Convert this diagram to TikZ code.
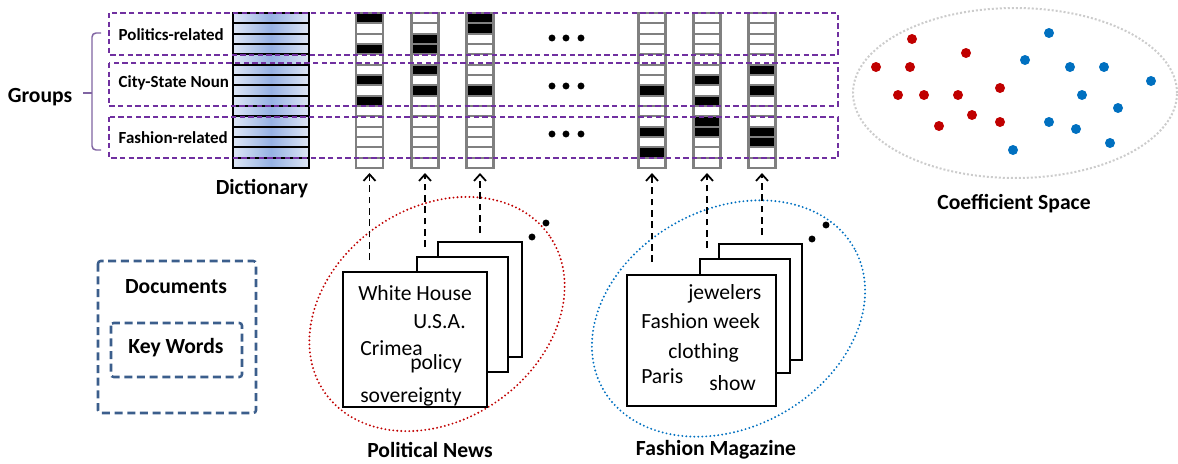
\documentclass[tikz,border=0pt]{standalone}
\usepackage{fontspec}
\setmainfont{Carlito}
\usetikzlibrary{arrows.meta, positioning, shapes.geometric}
\definecolor{grpPurple}{RGB}{112,48,160}
\definecolor{legBlue}{RGB}{59,94,140}
\definecolor{braceCol}{RGB}{128,100,162}
\definecolor{ptRed}{RGB}{192,0,0}
\definecolor{ptBlue}{RGB}{0,112,192}
\definecolor{dictEdge}{RGB}{222,230,245}
\definecolor{dictMid}{RGB}{150,178,228}
\tikzset{%
  big/.style = {font = \bfseries\fontsize{16.2}{19}\selectfont},
  grp/.style = {font = \bfseries\fontsize{12.7}{15}\selectfont, anchor = west},
  word/.style = {font = \fontsize{16.2}{19}\selectfont, anchor = base west, inner sep = 0},
  grpbox/.style = {draw = grpPurple, dashed, line width = 1.2pt, dash pattern = on 4pt off 2.5pt},
  cell/.style = {draw = gray, line width = 1.6pt, fill = white},
  hit/.style = {cell, fill = black},
  feed/.style = {draw, dashed, line width = 1.3pt, dash pattern = on 5pt off 3.5pt, -{Straight Barb[length=5pt, width=9pt]}},
  page/.style = {rectangle, draw, line width = 1.6pt, fill = white, inner sep = 0},
  ring/.style = {ellipse, draw, line width = 1.6pt, line cap = round, dash pattern = on 0pt off 3pt, inner sep = 0, outer sep = 0},
  legend/.style = {draw = legBlue, line width = 1.9pt, dash pattern = on 6pt off 3.5pt, rounded corners = 2pt},
  dictbox/.style = {rectangle, draw, line width = 1.6pt, inner sep = 0, left color = dictEdge, right color = dictEdge, middle color = dictMid}
}
\begin{document}
\begin{tikzpicture}[x=0.75pt, y=-0.75pt]
    \useasboundingbox (0,0) rectangle (1178,464);
    % rings behind the pages
    \node[ring, draw = ptRed, minimum width = 205.5pt, minimum height = 159pt, rotate = 35] (pnring) at (437,314) {};
    \node[ring, draw = ptBlue, minimum width = 216pt, minimum height = 163.5pt, rotate = 29] (fmring) at (728.5,318.5) {};
    \node[ring, draw = gray!40, line width = 1.5pt, line cap = butt, dash pattern = on 1.5pt off 1.5pt, minimum width = 243pt, minimum height = 127.5pt] (coefring) at (1015,93) {};
    % dictionary
    \node[dictbox, minimum width = 57pt, minimum height = 116.25pt] (dict) at (271,90.5) {};
    \foreach \r in {1,...,14}
      \draw[line width = 1.6pt] (233,{13+\r*10.333}) -- (309,{13+\r*10.333});
    \node[big] (dictlabel) at (262,189) {Dictionary};
    % coefficient columns
    \foreach \cx/\blk in {369.5/{1,4,7,9}, 425/{3,4,6,8}, 480/{1,2,8}, 652/{8,12,14}, 707/{7,9,11,12}, 762/{6,8,12,13}} {
      \foreach \r in {1,...,15}
        \draw[cell] ({\cx-13.5},{13+(\r-1)*10.333}) rectangle ++(27,10.333);
      \foreach \r in \blk
        \draw[hit] ({\cx-13.5},{13+(\r-1)*10.333}) rectangle ++(27,10.333);
    }
    % groups
    \draw[grpbox] (109,13) rectangle (838,55);
    \draw[grpbox] (109,63) rectangle (838,106);
    \draw[grpbox] (109,117) rectangle (838,158);
    \node[grp] (g1) at (114,35) {Politics-related};
    \node[grp] (g2) at (114,83) {City-State Noun};
    \node[grp] (g3) at (114,138) {Fashion-related};
    \foreach \gy in {38,86,134}
      \foreach \gx in {552,566,581}
        \fill (\gx,\gy) circle[radius = 2.6pt];
    \draw[braceCol, line width = 1.1pt, rounded corners = 3pt] (101,33) -- (92,33) -- (92,150) -- (101,150);
    \draw[braceCol, line width = 1.1pt] (92,93) -- (83,93);
    \node[big, anchor = east] (groups) at (77,97) {Groups};
    % political news
    \node[page, minimum width = 63pt, minimum height = 86.25pt] (pn3) at (480,299.5) {};
    \node[page, minimum width = 68.25pt, minimum height = 86.25pt] (pn2) at (462.5,314.5) {};
    \node[page, minimum width = 108pt, minimum height = 101.25pt] (pn1) at (415,339.5) {};
    \fill (532,237) circle[radius = 2.6pt] (546,223) circle[radius = 2.6pt];
    \node[word] (w1) at (358,300) {White House};
    \node[word] (w2) at (413,328) {U.S.A.};
    \node[word] (w3) at (360,355) {Crimea};
    \node[word] (w4) at (410,369) {policy};
    \node[word] (w5) at (360,402) {sovereignty};
    \node[big] (pnlabel) at (430,450) {Political News};
    % fashion magazine
    \node[page, minimum width = 62.25pt, minimum height = 87pt] (fm3) at (760.5,302) {};
    \node[page, minimum width = 67.5pt, minimum height = 85.5pt] (fm2) at (745,316) {};
    \node[page, minimum width = 111.75pt, minimum height = 98.25pt] (fm1) at (701.5,340.5) {};
    \fill (812,239) circle[radius = 2.6pt] (826,225) circle[radius = 2.6pt];
    \node[word] (f1) at (688,299) {jewelers};
    \node[word] (f2) at (641,328) {Fashion week};
    \node[word] (f3) at (668,358) {clothing};
    \node[word] (f4) at (641,383) {Paris};
    \node[word] (f5) at (709,390) {show};
    \node[big] (fmlabel) at (716,450) {Fashion Magazine};
    % documents feed the columns
    \foreach \cx/\ty [count=\k] in {369.5/260, 425/247, 480/233, 652/262, 707/248, 762/235} {
      \coordinate (src\k) at (\cx,\ty);
      \coordinate (foot\k) at (\cx,173);
      \draw[feed] (src\k) -- (foot\k);
    }
    % coefficient space
    \foreach \p in {(912,39), (966,53), (876,67), (910,67), (898,95), (924,95), (958,95), (1000,88), (972,115), (939,126), (1000,122)}
      \fill[ptRed] \p circle[radius = 3.75pt];
    \foreach \p in {(1049,33), (1025,60), (1070,67), (1104,67), (1151,81), (1082,95), (1118,108), (1049,122), (1076,129), (1110,143), (1013,150)}
      \fill[ptBlue] \p circle[radius = 3.75pt];
    \node[big] (coeflabel) at (1014,204) {Coefficient Space};
    % legend
    \draw[legend] (98,261) rectangle (256,413);
    \draw[legend] (111,323) rectangle (242,377);
    \node[big] (doclabel) at (176,287) {Documents};
    \node[big] (kwlabel) at (176,348) {Key Words};
\end{tikzpicture}
\end{document}
